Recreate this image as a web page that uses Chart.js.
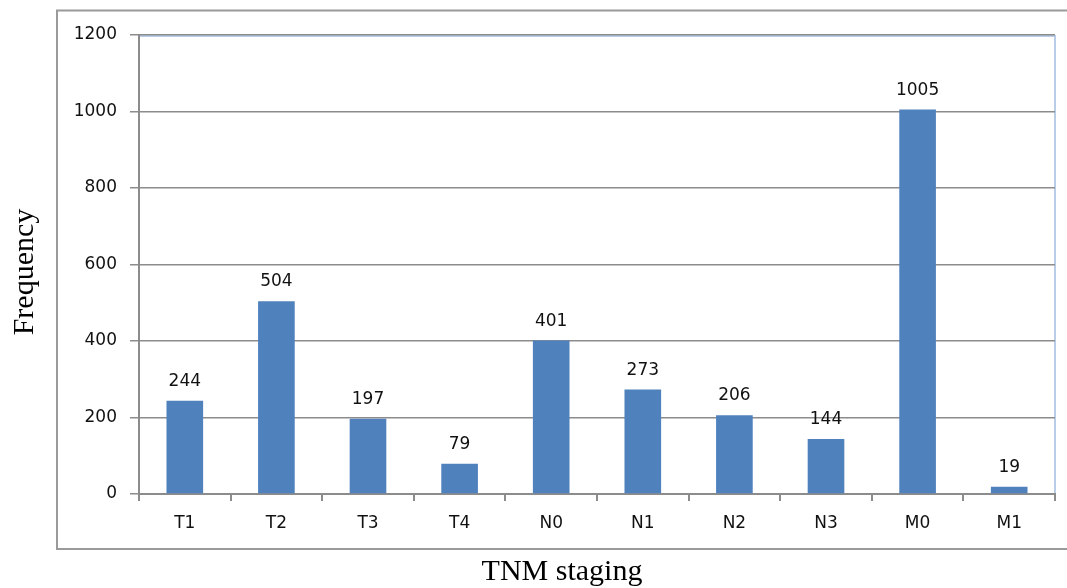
<!DOCTYPE html>
<html>
<head>
<meta charset="utf-8">
<script src="https://cdn.jsdelivr.net/npm/chart.js@4/dist/chart.umd.min.js"></script>
<style>
  html, body { margin: 0; padding: 0; background: #fff; }
  #wrap { width: 1067px; height: 588px; position: relative; }
</style>
</head>
<body>
<div id="wrap"><canvas id="c" width="1067" height="588"></canvas></div>
<script>
// TNM staging frequencies
const categories = ['T1', 'T2', 'T3', 'T4', 'N0', 'N1', 'N2', 'N3', 'M0', 'M1'];
const frequencies = [244, 504, 197, 79, 401, 273, 206, 144, 1005, 19];
const yTicks = [0, 200, 400, 600, 800, 1000, 1200];
const xTitle = 'TNM staging';
const yTitle = 'Frequency';

const BAR = '#4F81BD';
const GRID = '#8c8c8c';
const TEXT = '#111';
const TICK_FONT = { family: 'DejaVu Sans', size: 17 };

// Outer frame, plot-area border and rotated/bottom axis titles
const frame = {
  id: 'frame',
  beforeDraw(chart) {
    const { ctx, chartArea: a } = chart;
    ctx.save();
    ctx.fillStyle = '#fff';
    ctx.fillRect(0, 0, chart.width, chart.height);
    ctx.strokeStyle = '#9a9a9a';
    ctx.lineWidth = 2;
    ctx.strokeRect(57, 10.5, 1020, 538.5);
    ctx.strokeStyle = '#b9cde8';
    ctx.lineWidth = 2;
    ctx.strokeRect(a.left, a.top + 1, a.right - a.left, a.bottom - a.top - 1);
    ctx.restore();
  },
  afterDraw(chart) {
    const { ctx } = chart;
    ctx.save();
    ctx.fillStyle = '#000';
    ctx.font = '30px "Liberation Serif"';
    ctx.textAlign = 'center';
    ctx.textBaseline = 'alphabetic';
    ctx.fillText(xTitle, 562, 580);
    ctx.translate(33, 272);
    ctx.rotate(-Math.PI / 2);
    ctx.fillText(yTitle, 0, 0);
    ctx.restore();
  }
};

// Value labels above each bar
const valueLabels = {
  id: 'valueLabels',
  afterDatasetsDraw(chart) {
    const { ctx } = chart;
    const meta = chart.getDatasetMeta(0);
    ctx.save();
    ctx.fillStyle = TEXT;
    ctx.font = '17px "DejaVu Sans"';
    ctx.textAlign = 'center';
    ctx.textBaseline = 'alphabetic';
    meta.data.forEach((bar, i) => {
      ctx.fillText(String(frequencies[i]), bar.x, bar.y - 15);
    });
    ctx.restore();
  }
};

new Chart(document.getElementById('c'), {
  type: 'bar',
  data: {
    labels: categories,
    datasets: [{
      data: frequencies,
      backgroundColor: BAR,
      borderWidth: 0,
      categoryPercentage: 1,
      barPercentage: 0.4
    }]
  },
  options: {
    responsive: false,
    animation: false,
    devicePixelRatio: 1,
    layout: { padding: { left: 0, top: 35, right: 12, bottom: 0 } },
    plugins: { legend: { display: false }, tooltip: { enabled: false } },
    scales: {
      x: {
        offset: true,
        afterFit(scale) { scale.height = 94; },
        grid: {
          offset: true,
          drawOnChartArea: false,
          drawTicks: true,
          tickLength: 7,
          color: GRID,
          lineWidth: 2
        },
        border: { color: GRID, width: 2 },
        ticks: { color: TEXT, font: TICK_FONT, padding: 12 }
      },
      y: {
        min: 0,
        max: 1200,
        afterFit(scale) { scale.width = 139; },
        afterBuildTicks(scale) { scale.ticks = yTicks.map(v => ({ value: v })); },
        grid: {
          color: GRID,
          lineWidth: 1.5,
          tickLength: 9
        },
        border: { color: GRID, width: 2 },
        ticks: {
          color: TEXT,
          font: TICK_FONT,
          padding: 13,
          callback: (v) => String(v)
        }
      }
    }
  },
  plugins: [frame, valueLabels]
});
</script>
</body>
</html>
